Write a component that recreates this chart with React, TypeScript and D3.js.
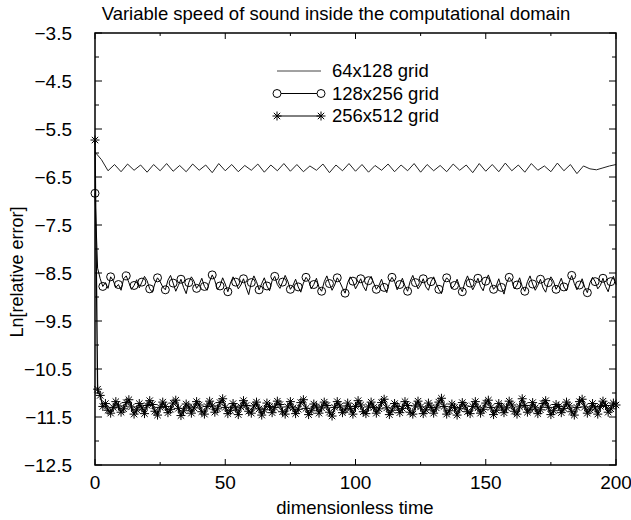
import * as d3 from 'd3';
import React from 'react';

// chart values
const yTicks = [-3.5, -4.5, -5.5, -6.5, -7.5, -8.5, -9.5, -10.5, -11.5, -12.5];
const xTicks = [0, 50, 100, 150, 200];
const legendNames = ['64x128 grid', '128x256 grid', '256x512 grid'];

// 64x128 grid, sampled every 2.5 time units
const grid64 = [
  -5.98, -6.14, -6.37, -6.24, -6.39, -6.23, -6.36, -6.25, -6.40, -6.24,
  -6.37, -6.22, -6.38, -6.26, -6.39, -6.23, -6.36, -6.25, -6.41, -6.22,
  -6.37, -6.24, -6.39, -6.26, -6.36, -6.23, -6.40, -6.25, -6.37, -6.22,
  -6.38, -6.24, -6.39, -6.27, -6.36, -6.23, -6.41, -6.25, -6.37, -6.22,
  -6.38, -6.24, -6.40, -6.26, -6.36, -6.23, -6.39, -6.25, -6.37, -6.22,
  -6.40, -6.24, -6.37, -6.26, -6.39, -6.23, -6.36, -6.25, -6.41, -6.22,
  -6.38, -6.24, -6.39, -6.21, -6.37, -6.25, -6.40, -6.22, -6.36, -6.27,
  -6.39, -6.21, -6.37, -6.24, -6.43, -6.27, -6.33, -6.35, -6.31, -6.27,
  -6.24,
];

// 128x256 grid, every time unit
const grid128 = [
  -6.84, -8.40, -8.62, -8.78, -8.70, -8.82, -8.58, -8.66, -8.80, -8.74,
  -8.86, -8.62, -8.56, -8.70, -8.84, -8.76, -8.64, -8.81, -8.69, -8.57,
  -8.66, -8.83, -8.90, -8.72, -8.60, -8.68, -8.79, -8.85, -8.65, -8.55,
  -8.71, -8.88, -8.76, -8.63, -8.80, -8.93, -8.70, -8.58, -8.67, -8.82,
  -8.74, -8.61, -8.78, -8.86, -8.68, -8.54, -8.66, -8.84, -8.77, -8.60,
  -8.73, -8.89, -8.71, -8.58, -8.69, -8.83, -8.75, -8.62, -8.80, -8.95,
  -8.70, -8.56, -8.68, -8.85, -8.72, -8.60, -8.77, -8.87, -8.66, -8.57,
  -8.74, -8.82, -8.69, -8.55, -8.67, -8.84, -8.76, -8.63, -8.79, -8.90,
  -8.71, -8.59, -8.66, -8.83, -8.74, -8.61, -8.80, -8.88, -8.68, -8.56,
  -8.72, -8.86, -8.75, -8.60, -8.69, -8.81, -8.92, -8.70, -8.58, -8.67,
  -8.83, -8.73, -8.62, -8.78, -8.87, -8.66, -8.57, -8.71, -8.84, -8.76,
  -8.63, -8.80, -8.91, -8.69, -8.59, -8.68, -8.85, -8.74, -8.61, -8.77,
  -8.88, -8.67, -8.55, -8.70, -8.83, -8.75, -8.62, -8.79, -8.86, -8.68,
  -8.58, -8.72, -8.84, -8.93, -8.70, -8.60, -8.66, -8.82, -8.76, -8.63,
  -8.79, -8.89, -8.69, -8.56, -8.71, -8.85, -8.74, -8.61, -8.78, -8.87,
  -8.67, -8.54, -8.69, -8.84, -8.77, -8.62, -8.80, -8.94, -8.71, -8.59,
  -8.66, -8.83, -8.75, -8.60, -8.78, -8.88, -8.68, -8.56, -8.73, -8.86,
  -8.76, -8.63, -8.81, -8.90, -8.70, -8.58, -8.67, -8.84, -8.74, -8.61,
  -8.79, -8.87, -8.69, -8.55, -8.72, -8.85, -8.75, -8.62, -8.80, -8.91,
  -8.70, -8.59, -8.68, -8.83, -8.76, -8.61, -8.78, -8.89, -8.68, -8.57,
  -8.74,
];

// 256x512 grid, every time unit
const grid256 = [
  -5.73, -10.92, -11.05, -11.28, -11.22, -11.36, -11.42, -11.30, -11.18, -11.27,
  -11.40, -11.33, -11.20, -11.14, -11.29, -11.44, -11.35, -11.22, -11.31, -11.43,
  -11.26, -11.16, -11.24, -11.38, -11.46, -11.30, -11.19, -11.28, -11.41, -11.34,
  -11.21, -11.15, -11.32, -11.47, -11.37, -11.23, -11.29, -11.42, -11.31, -11.18,
  -11.25, -11.39, -11.44, -11.28, -11.17, -11.27, -11.40, -11.33, -11.20, -11.12,
  -11.30, -11.43, -11.36, -11.22, -11.31, -11.45, -11.29, -11.16, -11.26, -11.38,
  -11.42, -11.27, -11.19, -11.33, -11.46, -11.35, -11.21, -11.28, -11.41, -11.30,
  -11.17, -11.24, -11.39, -11.44, -11.29, -11.18, -11.31, -11.43, -11.34, -11.20,
  -11.14, -11.32, -11.45, -11.37, -11.23, -11.29, -11.42, -11.31, -11.19, -11.26,
  -11.40, -11.48, -11.30, -11.18, -11.27, -11.41, -11.35, -11.21, -11.32, -11.44,
  -11.28, -11.16, -11.25, -11.39, -11.43, -11.29, -11.19, -11.30, -11.42, -11.33,
  -11.20, -11.13, -11.31, -11.45, -11.36, -11.22, -11.28, -11.41, -11.32, -11.18,
  -11.26, -11.40, -11.44, -11.27, -11.17, -11.29, -11.43, -11.35, -11.21, -11.30,
  -11.42, -11.31, -11.19, -11.11, -11.28, -11.44, -11.37, -11.23, -11.30, -11.46,
  -11.33, -11.20, -11.27, -11.39, -11.43, -11.28, -11.18, -11.31, -11.42, -11.34,
  -11.21, -11.15, -11.30, -11.45, -11.36, -11.22, -11.29, -11.41, -11.31, -11.17,
  -11.25, -11.38, -11.44, -11.29, -11.12, -11.26, -11.40, -11.34, -11.20, -11.31,
  -11.43, -11.35, -11.22, -11.16, -11.30, -11.45, -11.37, -11.24, -11.28, -11.41,
  -11.32, -11.19, -11.27, -11.39, -11.46, -11.30, -11.18, -11.13, -11.29, -11.42,
  -11.35, -11.22, -11.31, -11.44, -11.28, -11.17, -11.26, -11.40, -11.33, -11.21,
  -11.25,
];

const W = 631, H = 520;
const m = {left: 95, right: 15, top: 33, bottom: 55};
const font = "'Liberation Sans', Arial, Helvetica, sans-serif";
const minus = (v: number) => String(v).replace('-', '\u2212');

const starPath = 'M-4.5,0H4.5M0,-4.5V4.5M-3.2,-3.2L3.2,3.2M-3.2,3.2L3.2,-3.2';

export default function App() {
  const x = d3.scaleLinear().domain([0, 200]).range([m.left, W - m.right]);
  const y = d3.scaleLinear().domain([-12.5, -3.5]).range([H - m.bottom, m.top]);

  const s64 = grid64.map((v, i) => [i * 2.5, v] as [number, number]);
  const s128 = grid128.map((v, i) => [i, v] as [number, number]);
  const s256 = grid256.map((v, i) => [i, v] as [number, number]);

  const line = d3.line<[number, number]>().x(d => x(d[0])).y(d => y(d[1]));

  const x0 = x(0), x1 = x(200), y0 = y(-12.5), y1 = y(-3.5);
  const yMinor = d3.range(-12.5, -3.49, 0.5);
  const xMinor = d3.range(0, 200.1, 25);

  const legY = [71, 93.5, 116];
  const legX0 = 277, legX1 = 321, legText = 332;

  return (
    <svg width={W} height={H} style={{position: 'absolute', left: 0, top: 0, background: '#fff'}}
      fontFamily={font}>
      <rect width={W} height={H} fill="#fff" />
      <text x={336} y={20} fontSize={18.5} textAnchor="middle">Variable speed of sound inside the computational domain</text>

      {/* ticks */}
      <g stroke="#000" strokeWidth={1}>
        {yMinor.map(v => {
          const major = yTicks.includes(v);
          const len = major ? 7 : 4;
          return (
            <g key={'y' + v}>
              <line x1={x0} x2={x0 + len} y1={y(v)} y2={y(v)} />
              <line x1={x1} x2={x1 - len} y1={y(v)} y2={y(v)} />
            </g>
          );
        })}
        {xMinor.map(v => {
          const major = xTicks.includes(v);
          const len = major ? 6 : 3;
          return (
            <g key={'x' + v}>
              <line x1={x(v)} x2={x(v)} y1={y0} y2={y0 - len} />
              <line x1={x(v)} x2={x(v)} y1={y1} y2={y1 + len} />
            </g>
          );
        })}
      </g>

      {yTicks.map(v => (
        <text key={v} x={72} y={y(v)} dy="0.35em" fontSize={19} textAnchor="end">{minus(v)}</text>
      ))}
      {xTicks.map(v => (
        <text key={v} x={x(v)} y={489} fontSize={19} textAnchor="middle">{v}</text>
      ))}
      <text x={355} y={514} fontSize={18.5} textAnchor="middle">dimensionless time</text>
      <text transform="translate(23,272) rotate(-90)" fontSize={18} textAnchor="middle">Ln[relative error]</text>

      {/* series */}
      <path d={line(s64) || ''} fill="none" stroke="#222" strokeWidth={1} />
      <path d={line(s128) || ''} fill="none" stroke="#000" strokeWidth={1} />
      {s128.filter((d, i) => i % 3 === 0).map((d, i) => (
        <circle key={i} cx={x(d[0])} cy={y(d[1])} r={4} fill="none" stroke="#000" strokeWidth={1} />
      ))}
      <path d={line(s256) || ''} fill="none" stroke="#000" strokeWidth={1.3} />
      {s256.map((d, i) => (
        <path key={i} d={starPath} transform={`translate(${x(d[0])},${y(d[1])})`} stroke="#000" strokeWidth={1} fill="none" />
      ))}

      {/* legend */}
      {legendNames.map((name, i) => (
        <g key={name}>
          <line x1={legX0} x2={legX1} y1={legY[i]} y2={legY[i]} stroke={i === 0 ? '#444' : '#000'} strokeWidth={1} />
          {i === 1 && [legX0, legX1].map(px => (
            <circle key={px} cx={px} cy={legY[i]} r={4} fill="#fff" stroke="#000" strokeWidth={1} />
          ))}
          {i === 2 && [legX0, legX1].map(px => (
            <path key={px} d={starPath} transform={`translate(${px},${legY[i]})`} stroke="#000" strokeWidth={1} fill="none" />
          ))}
          <text x={legText} y={legY[i]} dy="0.35em" fontSize={18.5}>{name}</text>
        </g>
      ))}

      <rect x={x0} y={y1} width={x1 - x0} height={y0 - y1} fill="none" stroke="#000" strokeWidth={1.5} />
    </svg>
  );
}
